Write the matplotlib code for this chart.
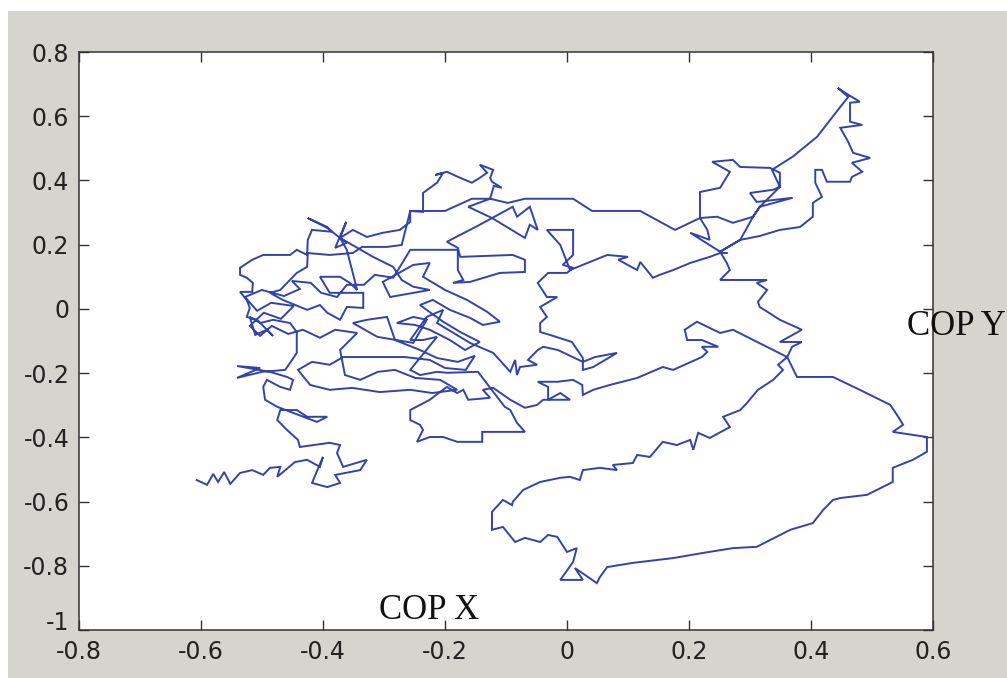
import matplotlib
matplotlib.use("Agg")
import matplotlib.pyplot as plt
from matplotlib.patches import Rectangle
from matplotlib.transforms import ScaledTranslation

# centre-of-pressure trajectory (COP X, COP Y)
cop_x = [
    -0.607, -0.590, -0.580, -0.572, -0.562, -0.552, -0.536, -0.516, -0.498, -0.487,
    -0.470, -0.475, -0.446, -0.426, -0.405, -0.400, -0.418, -0.393, -0.372, -0.380,
    -0.339, -0.328, -0.367, -0.377, -0.372, -0.389, -0.416, -0.438, -0.441, -0.459,
    -0.475, -0.470, -0.443, -0.426, -0.393, -0.410, -0.475, -0.495, -0.498, -0.492,
    -0.470, -0.454, -0.449, -0.459, -0.487, -0.541, -0.503, -0.541, -0.500, -0.462,
    -0.454, -0.443, -0.443, -0.454, -0.482, -0.503, -0.520, -0.511, -0.492, -0.482,
    -0.508, -0.525, -0.520, -0.525, -0.536, -0.516, -0.515, -0.525, -0.536, -0.536,
    -0.516, -0.498, -0.454, -0.443, -0.426, -0.425, -0.418, -0.385, -0.393, -0.425,
    -0.393, -0.372,
    -0.361, -0.380, -0.362, -0.372,
    -0.351, -0.328, -0.302, -0.274, -0.257, -0.257, -0.236, -0.236,
    -0.213, -0.203, -0.216, -0.197, -0.175, -0.156, -0.143, -0.131, -0.143, -0.121,
    -0.126, -0.123, -0.107, -0.120, -0.126, -0.156, -0.200, -0.257, -0.271, -0.295,
    -0.336, -0.351, -0.389, -0.425, -0.426, -0.443, -0.470, -0.487, -0.466, -0.426,
    -0.405, -0.393, -0.372, -0.361, -0.334, -0.334, -0.389, -0.405, -0.372, -0.356,
    -0.344, -0.361, -0.372, -0.318, -0.285, -0.271, -0.252, -0.225, -0.252, -0.290,
    -0.302, -0.252, -0.225, -0.236,
    -0.200, -0.164, -0.131, -0.110, -0.138, -0.159, -0.192, -0.220, -0.241, -0.203,
    -0.175, -0.143, -0.167, -0.192, -0.225, -0.249,
    -0.279, -0.252, -0.230, -0.252, -0.311, -0.351,
    -0.328, -0.295,
    -0.282, -0.241, -0.213, -0.179, -0.151, -0.166, -0.200, -0.225, -0.266, -0.307,
    -0.339, -0.367, -0.389, -0.418, -0.441, -0.421, -0.389, -0.352, -0.307, -0.257,
    -0.221, -0.180, -0.208, -0.249, -0.282, -0.310, -0.339, -0.364, -0.372, -0.344,
    -0.380, -0.405, -0.433, -0.457, -0.484, -0.503, -0.520, -0.497, -0.469, -0.448,
    -0.485, -0.508, -0.528, -0.500, -0.464, -0.438, -0.451, -0.420, -0.403, -0.377,
    -0.361, -0.333, -0.315, -0.285, -0.269,
    -0.257, -0.179, -0.179, -0.170, -0.187, -0.159, -0.110, -0.069,
    -0.069, -0.089, -0.175, -0.179, -0.197, -0.143, -0.089, -0.082, -0.061, -0.048,
    -0.061, -0.069, -0.123, -0.162, -0.126, -0.097, -0.069, 0.010, 0.041, 0.120,
    0.177, 0.218, 0.246, 0.272, 0.305, 0.316, 0.370, 0.311, 0.300, 0.338,
    0.349, 0.349, 0.333, 0.284, 0.272, 0.238, 0.267, 0.251, 0.218, 0.218,
    0.218, 0.230, 0.234, 0.202, 0.251, 0.284, 0.316, 0.349, 0.382, 0.403,
    0.403, 0.418, 0.407, 0.407, 0.418, 0.426, 0.464, 0.467, 0.484, 0.467,
    0.497, 0.469, 0.461, 0.448, 0.484, 0.464, 0.464, 0.480, 0.461, 0.444,
    0.461, 0.448, 0.410, 0.370, 0.336, 0.349, 0.316, 0.305, 0.284, 0.251,
    0.262, 0.267, 0.251, 0.284, 0.328, 0.311, 0.328, 0.313, 0.316, 0.349,
    0.385, 0.349, 0.385, 0.369, 0.361, 0.346, 0.354, 0.338, 0.313, 0.295,
    0.284, 0.256, 0.267, 0.234, 0.215, 0.207, 0.202, 0.180, 0.157, 0.136,
    0.115, 0.108, 0.075, 0.082, 0.054, 0.026, 0.021, 0.005, -0.011, -0.044,
    -0.072, -0.089, -0.090, -0.105, -0.123, -0.123, -0.105, -0.085, -0.069, -0.044,
    -0.031, -0.016, 0.000, 0.016, 0.010, -0.011, 0.026, 0.013, 0.049, 0.054,
    0.066, 0.108, 0.174, 0.223, 0.272, 0.311, 0.366, 0.403, 0.420, 0.436,
    0.448, 0.492, 0.534, 0.534, 0.567, 0.590, 0.590, 0.534, 0.551, 0.543,
    0.530, 0.480, 0.436, 0.377, 0.361, 0.272, 0.251, 0.213, 0.193, 0.197,
    0.221, 0.248, 0.221, 0.230, 0.221, 0.174, 0.157, 0.115, 0.070, 0.043,
    0.026, 0.025, 0.010, -0.016, -0.048, -0.031, -0.031, -0.011, 0.005, -0.039,
    -0.049, -0.069, -0.093, -0.121, -0.138, -0.126, -0.162, -0.170, -0.180, -0.197,
    -0.225, -0.257, -0.257, -0.241, -0.236, -0.246, -0.225, -0.203, -0.180, -0.139,
    -0.139, -0.069, -0.082, -0.093, -0.102, -0.146, -0.197, -0.213, -0.241, -0.257,
    -0.213, -0.236, -0.257, -0.230, -0.203, -0.213, -0.159, -0.121, -0.093, -0.085,
    -0.082, -0.077, -0.049, -0.064, -0.048, -0.039, -0.015, 0.026, 0.046, 0.082,
    0.043, 0.026, 0.026, 0.008, -0.028, -0.044, -0.044, -0.033, -0.044, -0.016,
    -0.033, -0.048, -0.031, 0.000, 0.010, -0.007, 0.010, 0.010, -0.033, -0.011,
    0.005, 0.066, 0.100, 0.084, 0.115, 0.120, 0.141, 0.152, 0.174, 0.202,
    0.234, 0.251, 0.262,
]
cop_y = [
    -0.533, -0.548, -0.514, -0.539, -0.508, -0.545, -0.511, -0.502, -0.517, -0.495,
    -0.492, -0.523, -0.477, -0.470, -0.492, -0.461, -0.542, -0.555, -0.542, -0.517,
    -0.502, -0.470, -0.492, -0.449, -0.424, -0.417, -0.424, -0.430, -0.408, -0.377,
    -0.346, -0.315, -0.315, -0.336, -0.336, -0.352, -0.305, -0.283, -0.243, -0.221,
    -0.243, -0.252, -0.221, -0.212, -0.196, -0.178, -0.184, -0.215, -0.196, -0.190,
    -0.168, -0.137, -0.072, -0.044, -0.034, -0.044, -0.025, -0.081, -0.065, -0.084,
    -0.034, -0.025, 0.003, 0.028, 0.053, 0.053, 0.081, 0.097, 0.106, 0.128,
    0.153, 0.168, 0.168, 0.184, 0.168, 0.215, 0.246, 0.240, 0.255, 0.283,
    0.252, 0.221,
    0.206, 0.190, 0.271, 0.221,
    0.246, 0.224, 0.237, 0.246, 0.271, 0.305, 0.302, 0.361,
    0.393, 0.424, 0.417, 0.427, 0.408, 0.393, 0.408, 0.424, 0.449, 0.433,
    0.408, 0.396, 0.377, 0.383, 0.343, 0.343, 0.305, 0.305, 0.199, 0.193,
    0.193, 0.174, 0.168, 0.174, 0.131, 0.112, 0.059, 0.050, 0.028, -0.003,
    0.012, -0.012, -0.034, 0.006, 0.003, 0.050, 0.050, 0.100, 0.100, 0.081,
    0.059, 0.184, 0.221, 0.162, 0.131, 0.090, 0.069, 0.059, 0.050, 0.037,
    0.084, 0.137, 0.143, 0.100,
    0.059, 0.028, -0.009, -0.040, -0.050, -0.028, -0.003, 0.028, 0.012, -0.040,
    -0.072, -0.103, -0.128, -0.097, -0.065, -0.050,
    -0.044, -0.025, -0.034, -0.106, -0.087, -0.044,
    -0.034, -0.025,
    -0.097, -0.128, -0.153, -0.165, -0.146, -0.190, -0.184, -0.159, -0.150, -0.150,
    -0.150, -0.150, -0.174, -0.165, -0.190, -0.237, -0.252, -0.246, -0.259, -0.252,
    -0.262, -0.252, -0.221, -0.215, -0.190, -0.196, -0.221, -0.206, -0.128, -0.075,
    -0.065, -0.090, -0.065, -0.078, -0.053, -0.084, -0.053, -0.012, -0.031, 0.009,
    0.019, -0.006, 0.037, 0.059, 0.040, 0.062, 0.087, 0.081, 0.050, 0.037,
    0.075, 0.075, 0.106, 0.097, 0.146,
    0.184, 0.184, 0.121, 0.090, 0.081, 0.084, 0.112, 0.115,
    0.153, 0.168, 0.162, 0.190, 0.209, 0.262, 0.318, 0.287, 0.318, 0.246,
    0.262, 0.221, 0.283, 0.318, 0.343, 0.330, 0.343, 0.343, 0.305, 0.305,
    0.246, 0.283, 0.287, 0.268, 0.287, 0.318, 0.346, 0.333, 0.361, 0.371,
    0.380, 0.424, 0.439, 0.442, 0.464, 0.458, 0.427, 0.377, 0.364, 0.330,
    0.283, 0.246, 0.215, 0.237, 0.178, 0.215, 0.227, 0.246, 0.255, 0.287,
    0.330, 0.349, 0.393, 0.433, 0.433, 0.396, 0.396, 0.411, 0.427, 0.455,
    0.470, 0.486, 0.520, 0.564, 0.573, 0.583, 0.642, 0.645, 0.667, 0.688,
    0.660, 0.629, 0.536, 0.474, 0.433, 0.380, 0.318, 0.287, 0.215, 0.178,
    0.143, 0.121, 0.090, 0.090, 0.090, 0.081, 0.059, 0.022, 0.006, -0.034,
    -0.065, -0.103, -0.103, -0.118, -0.150, -0.174, -0.190, -0.221, -0.252, -0.293,
    -0.315, -0.336, -0.368, -0.402, -0.386, -0.439, -0.408, -0.424, -0.414, -0.461,
    -0.455, -0.480, -0.486, -0.502, -0.495, -0.502, -0.533, -0.523, -0.526, -0.539,
    -0.564, -0.601, -0.611, -0.595, -0.632, -0.688, -0.679, -0.726, -0.713, -0.726,
    -0.704, -0.710, -0.757, -0.745, -0.788, -0.844, -0.844, -0.807, -0.854, -0.835,
    -0.804, -0.791, -0.776, -0.760, -0.745, -0.741, -0.688, -0.667, -0.626, -0.595,
    -0.589, -0.579, -0.539, -0.495, -0.470, -0.445, -0.399, -0.383, -0.361, -0.336,
    -0.299, -0.252, -0.212, -0.212, -0.150, -0.065, -0.075, -0.040, -0.065, -0.097,
    -0.097, -0.118, -0.118, -0.134, -0.150, -0.190, -0.181, -0.215, -0.237, -0.252,
    -0.268, -0.237, -0.221, -0.227, -0.227, -0.243, -0.283, -0.262, -0.283, -0.283,
    -0.299, -0.308, -0.283, -0.246, -0.252, -0.277, -0.283, -0.252, -0.262, -0.243,
    -0.283, -0.315, -0.346, -0.361, -0.377, -0.414, -0.399, -0.399, -0.414, -0.414,
    -0.383, -0.383, -0.355, -0.315, -0.305, -0.196, -0.199, -0.196, -0.206, -0.190,
    -0.087, -0.097, -0.097, -0.025, -0.003, -0.044, -0.106, -0.137, -0.196, -0.159,
    -0.206, -0.181, -0.174, -0.159, -0.128, -0.118, -0.128, -0.165, -0.150, -0.137,
    -0.181, -0.190, -0.153, -0.103, -0.081, -0.072, -0.044, -0.025, 0.006, 0.037,
    0.037, 0.081, 0.112, 0.112, 0.128, 0.137, 0.168, 0.246, 0.246, 0.199,
    0.121, 0.168, 0.162, 0.153, 0.121, 0.146, 0.097, 0.106, 0.121, 0.143,
    0.162, 0.174, 0.174,
]

x_ticks = [-0.8, -0.6, -0.4, -0.2, 0, 0.2, 0.4, 0.6]
x_tick_labels = ["-0.8", "-0.6", "-0.4", "-0.2", "0", "0.2", "0.4", "0.6"]
y_ticks = [-1, -0.8, -0.6, -0.4, -0.2, 0, 0.2, 0.4, 0.6, 0.8]
y_tick_labels = ["-1", "-0.8", "-0.6", "-0.4", "-0.2", "0", "0.2", "0.4", "0.6", "0.8"]

tick_font = ["Liberation Sans Narrow", "DejaVu Sans Condensed", "DejaVu Sans"]
label_font = ["Liberation Serif", "DejaVu Serif"]

fig = plt.figure(figsize=(10.07, 6.78), dpi=100)
fig.patch.set_facecolor("white")
# grey window area, leaving a thin white strip along the top and left edges
fig.patches.append(Rectangle((8 / 1007, 0), 1, 1 - 11 / 678, transform=fig.transFigure,
                             facecolor="#d6d4ce", edgecolor="none", zorder=-10))

ax = fig.add_axes([79 / 1007, 48 / 678, 854 / 1007, 578 / 678])
ax.set_facecolor("white")
ax.plot(cop_x, cop_y, color="#3343a8", linewidth=1.4, solid_joinstyle="miter")

ax.set_xlim(-0.8, 0.6)
ax.set_ylim(-1, 0.8)
ax.set_xticks(x_ticks)
ax.set_xticklabels(x_tick_labels, family=tick_font, fontsize=17, color="#222222")
ax.set_yticks(y_ticks)
ax.set_yticklabels(y_tick_labels, family=tick_font, fontsize=17, color="#222222")
ax.tick_params(direction="in", length=7, width=1, color="#333333",
               top=True, right=True, pad=7)
for spine in ax.spines.values():
    spine.set_color("#333333")
    spine.set_linewidth(1.1)

# the bottom y label sits a little higher so it clears the "-0.8" below it
bottom_label = ax.get_yticklabels()[0]
bottom_label.set_transform(bottom_label.get_transform()
                           + ScaledTranslation(0, 9 / 100, fig.dpi_scale_trans))

ax.text(-0.226, -0.94, "COP X", family=label_font, fontsize=25,
        ha="center", va="center", color="#111111")
ax.text(0.557, -0.056, "COP Y", family=label_font, fontsize=25,
        ha="left", va="center", color="#111111", clip_on=False)

fig.savefig("out.png", dpi=100, facecolor=fig.get_facecolor())
